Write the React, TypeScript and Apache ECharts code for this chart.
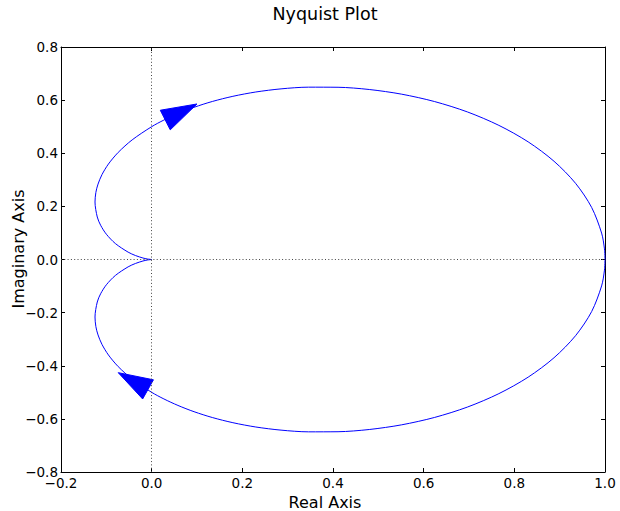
import React, { useEffect, useRef } from "react";
import * as echarts from "echarts";

// Nyquist curve points (real part shared by both branches)
const branchRe = [
  1.0, 0.9988, 0.9925, 0.9705, 0.935, 0.8876, 0.8305, 0.7659, 0.6964, 0.6243,
  0.5515, 0.48, 0.4111, 0.346, 0.2854, 0.2297, 0.1792, 0.1338, 0.0935, 0.058,
  0.027, 0.0, -0.043, -0.0739, -0.0954, -0.1096, -0.1183, -0.1231, -0.125,
  -0.12, -0.1126, -0.0999, -0.08, -0.0519, -0.0355, -0.0192, -0.0097, 0.0,
];
const upperIm = [
  0.0, 0.04, 0.0995, 0.1961, 0.2869, 0.3698, 0.4429, 0.505, 0.5556, 0.5945,
  0.6224, 0.64, 0.6484, 0.6488, 0.6424, 0.6306, 0.6144, 0.5949, 0.573, 0.5494,
  0.525, 0.5, 0.4504, 0.4031, 0.3593, 0.3196, 0.284, 0.2525, 0.2165, 0.16,
  0.129, 0.0951, 0.06, 0.0277, 0.0148, 0.0056, 0.002, 0.0,
];
const lowerIm = [
  0.0, -0.04, -0.0995, -0.1961, -0.2869, -0.3698, -0.4429, -0.505, -0.5556,
  -0.5945, -0.6224, -0.64, -0.6484, -0.6488, -0.6424, -0.6306, -0.6144, -0.5949,
  -0.573, -0.5494, -0.525, -0.5, -0.4504, -0.4031, -0.3593, -0.3196, -0.284,
  -0.2525, -0.2165, -0.16, -0.129, -0.0951, -0.06, -0.0277, -0.0148, -0.0056,
  -0.002, 0.0,
];
// Arrowheads: [tipRe, tipIm, baseRe, baseIm]
const arrows = [
  [0.0999, 0.5855, 0.03, 0.525],
  [-0.0737, -0.426, -0.008, -0.489],
];

const xMin = -0.2;
const xMax = 1.0;
const yMin = -0.8;
const yMax = 0.8;
const tickStep = 0.2;

const FONT = "DejaVu Sans";

const fmt = (v: number) => {
  if (Math.abs(v) < 1e-9) return "0.0";
  return v.toFixed(1).replace("-", "\u2212");
};

export default function App() {
  const ref = useRef<HTMLDivElement>(null);
  useEffect(() => {
    document.body.style.margin = "0";
    const chart = echarts.init(ref.current!, null, { renderer: "svg" });
    const upper = branchRe.map((r, i) => [r, upperIm[i]]);
    const lower = branchRe.map((r, i) => [r, lowerIm[i]]);
    const axisLine = { show: true, lineStyle: { color: "#000", width: 1 } };
    const axisTick = { show: true, inside: true, length: 4, lineStyle: { color: "#000" } };
    chart.setOption({
      animation: false,
      backgroundColor: "#fff",
      title: {
        text: "Nyquist Plot",
        left: 320,
        top: 0,
        textAlign: "center",
        textStyle: { fontFamily: FONT, fontSize: 17.5, fontWeight: "normal", color: "#000" },
      },
      graphic: [
        {
          type: "text",
          x: 18,
          y: 249,
          rotation: Math.PI / 2,
          style: {
            text: "Imaginary Axis",
            align: "center",
            verticalAlign: "middle",
            fontFamily: FONT,
            fontSize: 16,
            fill: "#000",
          },
        },
      ],
      grid: {
        left: 61,
        right: 15,
        top: 47,
        bottom: 39,
        containLabel: false,
        outerBoundsMode: "none",
      },
      xAxis: [
        {
          type: "value",
          min: xMin,
          max: xMax,
          interval: tickStep,
          position: "bottom",
          name: "Real Axis",
          nameLocation: "middle",
          nameGap: 22,
          nameTextStyle: {
            fontFamily: FONT,
            fontSize: 16,
            lineHeight: 14,
            color: "#000",
            padding: [0, 16, 0, 0],
          },
          axisLine: { ...axisLine, onZero: false },
          axisTick,
          splitLine: { show: false },
          axisLabel: {
            formatter: fmt,
            fontFamily: FONT,
            fontSize: 13.5,
            lineHeight: 12,
            color: "#000",
            margin: 5,
          },
        },
        {
          type: "value",
          min: xMin,
          max: xMax,
          interval: tickStep,
          position: "top",
          axisLine: { ...axisLine, onZero: false },
          axisTick,
          splitLine: { show: false },
          axisLabel: { show: false },
        },
      ],
      yAxis: [
        {
          type: "value",
          min: yMin,
          max: yMax,
          interval: tickStep,
          position: "left",
          axisLine: { ...axisLine, onZero: false },
          axisTick,
          splitLine: { show: false },
          axisLabel: {
            formatter: fmt,
            fontFamily: FONT,
            fontSize: 13.5,
            lineHeight: 10,
            color: "#000",
            margin: 3,
          },
        },
        {
          type: "value",
          min: yMin,
          max: yMax,
          interval: tickStep,
          position: "right",
          axisLine: { ...axisLine, onZero: false },
          axisTick,
          splitLine: { show: false },
          axisLabel: { show: false },
        },
      ],
      series: [
        {
          type: "line",
          data: upper,
          xAxisIndex: 0,
          yAxisIndex: 0,
          showSymbol: false,
          smooth: 0.3,
          lineStyle: { color: "#0000ff", width: 1 },
          markLine: {
            silent: true,
            symbol: "none",
            label: { show: false },
            lineStyle: { color: "#444", width: 1, type: [1, 2.3] },
            data: [{ xAxis: 0 }, { yAxis: 0 }],
          },
          z: 3,
        },
        {
          type: "line",
          data: lower,
          xAxisIndex: 0,
          yAxisIndex: 0,
          showSymbol: false,
          smooth: 0.3,
          lineStyle: { color: "#0000ff", width: 1 },
          z: 3,
        },
        {
          type: "custom",
          xAxisIndex: 0,
          yAxisIndex: 0,
          data: arrows,
          encode: { x: [0, 2], y: [1, 3] },
          z: 4,
          renderItem: (params: any, api: any) => {
            const tip = api.coord([api.value(0), api.value(1)]);
            const base = api.coord([api.value(2), api.value(3)]);
            const dx = tip[0] - base[0];
            const dy = tip[1] - base[1];
            const len = Math.sqrt(dx * dx + dy * dy) || 1;
            const px = -dy / len;
            const py = dx / len;
            const hw = 11;
            return {
              type: "polygon",
              shape: {
                points: [
                  tip,
                  [base[0] + px * hw, base[1] + py * hw],
                  [base[0] - px * hw, base[1] - py * hw],
                ],
              },
              style: { fill: "#0000ff", stroke: "#0000ff", lineWidth: 1 },
            };
          },
        },
      ],
    });
    return () => chart.dispose();
  }, []);
  return <div ref={ref} style={{ width: 620, height: 511 }} />;
}
